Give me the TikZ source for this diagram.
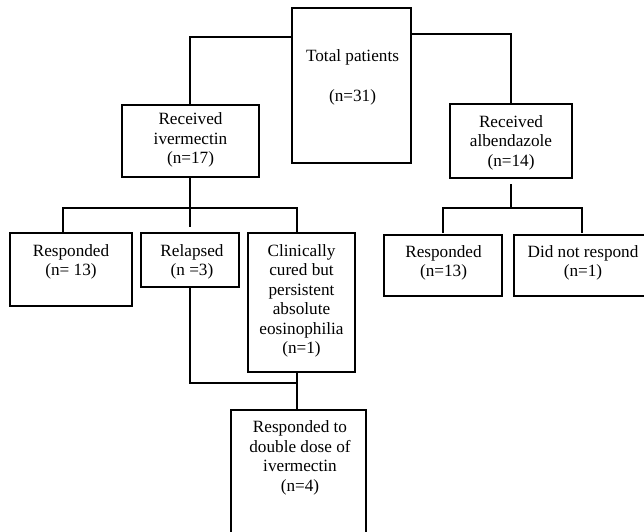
\documentclass[tikz,border=0pt]{standalone}
\usepackage{fontspec}
\setmainfont{Liberation Serif}
\usetikzlibrary{calc}
\begin{document}
\begin{tikzpicture}[x=1pt,y=-1pt,
  box/.style={draw=black, line width=1.3pt, inner sep=0pt, outer sep=0pt},
  txt/.style={font=\fontsize{17.2}{19.5}\selectfont, align=center, inner sep=0pt},
  conn/.style={draw=black, line width=1.3pt}]
\clip (0,0) rectangle (644,531);
% boxes
\node[box, minimum width=119pt, minimum height=155pt] (tot) at (351.5,85.5) {};
\node[txt] (tott) at (352.5,77) {Total patients\\[20.5pt](n=31)};
\node[box, minimum width=137pt, minimum height=72pt] (iver) at (190.5,141) {};
\node[txt] (ivert) at (190.5,140) {Received\\ivermectin\\(n=17)};
\node[box, minimum width=122pt, minimum height=74pt] (alb) at (511,141) {};
\node[txt] (albt) at (511,142.5) {Received\\albendazole\\(n=14)};
\node[box, minimum width=122pt, minimum height=73pt] (resp1) at (71,269.5) {};
\node[txt] (resp1t) at (71,262) {Responded\\(n= 13)};
\node[box, minimum width=98pt, minimum height=54pt] (rel) at (190,260) {};
\node[txt] (relt) at (192,262) {Relapsed\\(n =3)};
\node[box, minimum width=107pt, minimum height=139pt] (clin) at (301.5,302.5) {};
\node[txt] (clint) at (301.5,301) {Clinically\\cured but\\persistent\\absolute\\eosinophilia\\(n=1)};
\node[box, minimum width=135pt, minimum height=135pt] (dbl) at (298.5,477.5) {};
\node[txt] (dblt) at (300,458) {Responded to\\double dose of\\ivermectin\\(n=4)};
\node[box, minimum width=118pt, minimum height=61pt] (resp2) at (443,265.5) {};
\node[txt] (resp2t) at (443.5,263) {Responded\\(n=13)};
\node[box, minimum width=150pt, minimum height=61pt] (nor) at (589,265.5) {};
\node[txt] (nort) at (583,263) {Did not respond\\(n=1)};
% connectors
\coordinate (ivx) at (190,0);
\draw[conn] ($(tot.north west)+(0,29)$) -| (iver.north -| ivx);
\draw[conn] ($(tot.north east)+(0,26)$) -| (alb.north);
\draw[conn] (iver.south -| ivx) -- ++(0,50);
\coordinate (hl) at (63,208);
\coordinate (hr) at (297,208);
\draw[conn] (resp1.north -| hl) -- (hl) -- (hr) -- (clin.north -| hr);
\coordinate (jl) at (190,383);
\coordinate (jr) at (297,383);
\draw[conn] (rel.south) -- (jl) -- (jr);
\draw[conn] (clin.south -| jr) -- (dbl.north -| jr);
\coordinate (al) at (443,208);
\coordinate (ar) at (582,208);
\draw[conn] ($(alb.south)+(0,6)$) -- (alb.south |- al);
\draw[conn] ($(resp2.north -| al)+(0,-2)$) -- (al) -- (ar) -- ($(nor.north -| ar)+(0,-2)$);
\end{tikzpicture}
\end{document}
